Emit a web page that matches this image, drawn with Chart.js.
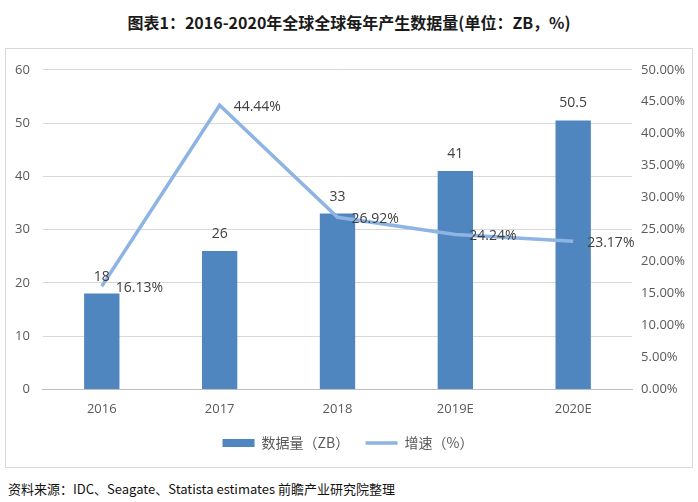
<!DOCTYPE html>
<html>
<head>
<meta charset="utf-8">
<script src="https://cdn.jsdelivr.net/npm/chart.js@4/dist/chart.umd.min.js"></script>
<style>
  body { margin: 0; background: #fff; width: 698px; height: 502px; position: relative; overflow: hidden; }
  #title { position: absolute; left: 0; top: 10px; width: 698px; text-align: center;
    font: bold 16px "Noto Sans CJK SC", sans-serif; color: #1a1a1a; }
  #box { position: absolute; left: 5px; top: 48px; width: 686px; height: 418px; border: 1px solid #d9d9d9; }
  #source { position: absolute; left: 8px; top: 479px; font: 13px "Noto Sans CJK SC", sans-serif; color: #111; }
</style>
</head>
<body>
<div id="title">图表1：2016-2020年全球全球每年产生数据量(单位：ZB，%)</div>
<div id="box"><canvas id="chart" width="686" height="418"></canvas></div>
<div id="source">资料来源：IDC、Seagate、Statista estimates 前瞻产业研究院整理</div>
<script>
var years = ["2016", "2017", "2018", "2019E", "2020E"];
var dataVolume = [18, 26, 33, 41, 50.5];
var growthRate = [16.13, 44.44, 26.92, 24.24, 23.17];

var barColor = "#4f86bf";
var lineColor = "#8eb4e3";
var tickFont = { family: "'Open Sans', sans-serif", size: 13 };

// value labels: bars above, line to the right of each point
var valueLabels = {
  id: "valueLabels",
  afterDatasetsDraw: function (chart) {
    var ctx = chart.ctx;
    ctx.save();
    ctx.font = "14px 'Open Sans', sans-serif";
    ctx.fillStyle = "#404040";
    ctx.textBaseline = "middle";
    chart.getDatasetMeta(0).data.forEach(function (bar, i) {
      ctx.textAlign = "center";
      ctx.fillText(String(dataVolume[i]), bar.x, bar.y - 17);
    });
    chart.getDatasetMeta(1).data.forEach(function (pt, i) {
      ctx.textAlign = "left";
      ctx.fillText(growthRate[i].toFixed(2) + "%", pt.x + 14, pt.y + 2);
    });
    ctx.restore();
  }
};

var ctxOne = document.getElementById("chart").getContext("2d");
new Chart(ctxOne, {
  type: "bar",
  data: {
    labels: years,
    datasets: [
      {
        label: "数据量（ZB）",
        data: dataVolume,
        backgroundColor: barColor,
        yAxisID: "y",
        barPercentage: 0.3,
        categoryPercentage: 1,
        order: 2,
      },
      {
        type: "line",
        label: "增速（%）",
        data: growthRate,
        borderColor: lineColor,
        backgroundColor: lineColor,
        borderWidth: 3.5,
        pointRadius: 0,
        tension: 0,
        yAxisID: "y1",
        order: 1,
      },
    ],
  },
  options: {
    responsive: false,
    animation: false,
    layout: { padding: { left: -4, right: -2, top: 6, bottom: 7 } },
    plugins: {
      title: { display: false },
      tooltip: { enabled: false },
      legend: {
        position: "bottom",
        labels: {
          color: "#595959",
          font: { family: "'Noto Sans CJK SC', sans-serif", size: 14 },
          usePointStyle: true,
          pointStyleWidth: 32,
          boxHeight: 8,
          padding: 7,
          generateLabels: function (chart) {
            return chart.data.datasets.map(function (ds, i) {
              return {
                text: i === 0 ? ds.label + "   " : ds.label,
                fillStyle: ds.backgroundColor,
                strokeStyle: i === 0 ? ds.backgroundColor : ds.borderColor,
                lineWidth: i === 0 ? 0 : 3.5,
                pointStyle: i === 0 ? "rect" : "line",
                fontColor: "#595959",
                datasetIndex: i,
              };
            });
          },
        },
      },
    },
    scales: {
      x: {
        grid: { display: false, drawTicks: false },
        border: { color: "#bfbfbf" },
        ticks: { color: "#595959", font: tickFont, padding: 12 },
      },
      y: {
        position: "left",
        min: 0,
        max: 60,
        ticks: { stepSize: 10, color: "#595959", font: tickFont, padding: 13 },
        grid: { color: "#d9d9d9", drawTicks: false },
        border: { display: false },
      },
      y1: {
        position: "right",
        min: 0,
        max: 50,
        ticks: {
          stepSize: 5,
          color: "#595959",
          font: tickFont,
          padding: 9,
          callback: function (v) { return v.toFixed(2) + "%"; },
        },
        grid: { display: false, drawTicks: false },
        border: { display: false },
      },
    },
  },
  plugins: [valueLabels],
});
</script>
</body>
</html>
